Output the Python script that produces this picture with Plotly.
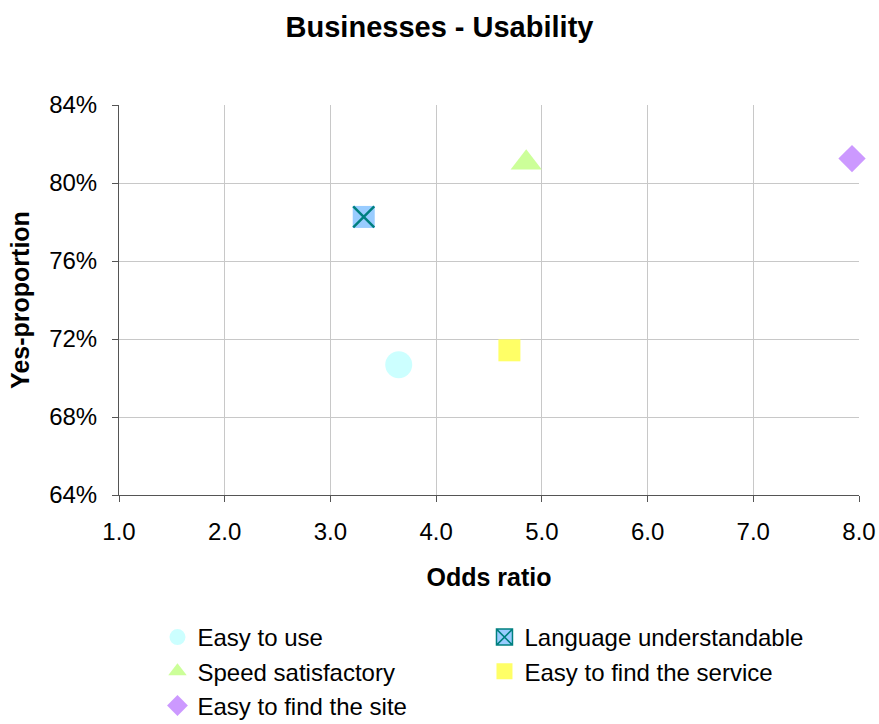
import plotly.graph_objects as go

series_names = ["Easy to use", "Language understandable", "Speed satisfactory",
                "Easy to find the service", "Easy to find the site"]
odds_ratio = [3.646, 3.315, 4.852, 4.693, 7.934]
yes_proportion = [0.7068, 0.7826, 0.8104, 0.7142, 0.8125]

x_ticks = [1, 2, 3, 4, 5, 6, 7, 8]
x_ticklabels = ["1.0", "2.0", "3.0", "4.0", "5.0", "6.0", "7.0", "8.0"]
y_ticks = [0.64, 0.68, 0.72, 0.76, 0.80, 0.84]

styles = [
    dict(symbol="circle", size=27, color="#CCFFFF", line=dict(width=0)),
    None,
    dict(symbol="triangle-up", size=27, color="#CCFF99", line=dict(width=0)),
    dict(symbol="square", size=22, color="#FFFF66", line=dict(width=0)),
    dict(symbol="diamond", size=21, color="#CC99FF", line=dict(width=0)),
]

fig = go.Figure()
for i, name in enumerate(series_names):
    if i == 1:
        fig.add_trace(go.Scatter(
            x=[odds_ratio[i]], y=[yes_proportion[i]], mode="markers",
            marker=dict(symbol="square", size=22, color="#99CCFF", line=dict(width=0)),
            showlegend=False, hoverinfo="skip", cliponaxis=False))
        fig.add_trace(go.Scatter(
            x=[odds_ratio[i]], y=[yes_proportion[i]], mode="markers",
            marker=dict(symbol="x-thin", size=21, color="#008080",
                        line=dict(width=2.5, color="#008080")),
            showlegend=False, name=name, cliponaxis=False))
        fig.add_trace(go.Scatter(
            x=[None], y=[None], mode="markers", name=name,
            marker=dict(symbol="square-x", size=16, color="#99CCFF",
                        line=dict(width=1.5, color="#008080"))))
    else:
        fig.add_trace(go.Scatter(
            x=[odds_ratio[i]], y=[yes_proportion[i]], mode="markers",
            name=name, marker=styles[i], cliponaxis=False))

font_family = "Liberation Sans, Arial, sans-serif"

W, H = 879, 724
fig.update_layout(
    width=W, height=H,
    paper_bgcolor="white", plot_bgcolor="white",
    margin=dict(l=119, r=20, t=105, b=229),
    font=dict(family=font_family, size=24, color="black"),
    title=dict(text="<b>Businesses - Usability</b>", x=0.5, xanchor="center",
               y=1 - 27 / H, yanchor="middle", font=dict(size=29, color="black")),
    xaxis=dict(
        range=[1, 8], tickvals=x_ticks, ticktext=x_ticklabels,
        showgrid=True, gridcolor="#C8C8C8", gridwidth=1,
        showline=True, linecolor="#555555", linewidth=1,
        ticks="outside", ticklen=6, tickcolor="#555555",
        zeroline=False, automargin=False, ticklabelstandoff=9,
        tickfont=dict(size=24),
        title=dict(text="<b>Odds ratio</b>", font=dict(size=25), standoff=24),
    ),
    yaxis=dict(
        range=[0.64, 0.84], tickvals=y_ticks,
        tickformat=".0%",
        showgrid=True, gridcolor="#C8C8C8", gridwidth=1,
        showline=True, linecolor="#555555", linewidth=1,
        ticks="outside", ticklen=6, tickcolor="#555555",
        zeroline=False, automargin=False, ticklabelstandoff=10,
        tickfont=dict(size=24),
        title=dict(text="<b>Yes-proportion</b>", font=dict(size=25), standoff=12),
    ),
    legend=dict(
        orientation="h", x=0.052, xanchor="left",
        yref="container", y=1 - 615 / H, yanchor="top",
        entrywidth=282, entrywidthmode="pixels", itemwidth=30,
        font=dict(size=24), tracegroupgap=0, bgcolor="rgba(0,0,0,0)",
    ),
)

fig.write_html(
    "out.html",
    config={"displayModeBar": False},
    post_script="document.body.style.margin='0';document.documentElement.style.overflow='hidden';",
)
